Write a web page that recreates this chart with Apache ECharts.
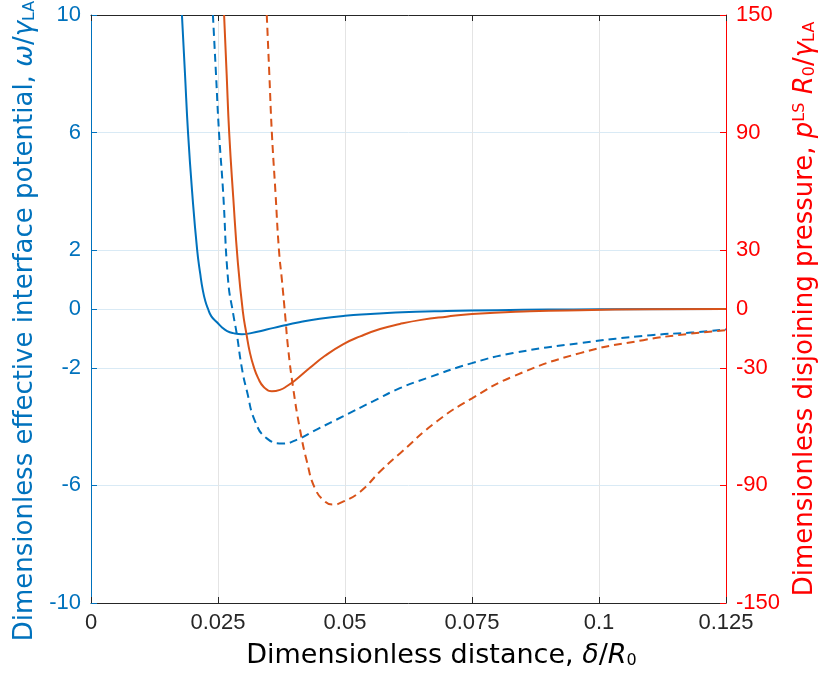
<!DOCTYPE html>
<html>
<head>
<meta charset="UTF-8">
<title>Interface potential and disjoining pressure</title>
<script src="https://cdn.jsdelivr.net/npm/echarts@6/dist/echarts.min.js"></script>
<style>
  html, body { margin: 0; padding: 0; background: #fff; }
  #chart { width: 822px; height: 677px; }
</style>
</head>
<body>
<div id="chart"></div>
<script>
// tick labels
var xTicks = [0, 0.025, 0.05, 0.075, 0.1, 0.125];
var leftTicks = [-10, -6, -2, 0, 2, 6, 10];
var rightTicks = [-150, -90, -30, 0, 30, 90, 150];

// blue solid: potential (left axis)
var blueSolidX = [0.0179, 0.0185, 0.0191, 0.0199, 0.0209, 0.0215, 0.0220, 0.0225, 0.0230, 0.0237, 0.0248, 0.0258, 0.0268, 0.0280, 0.0297, 0.0315, 0.0346, 0.0375, 0.0410, 0.0450, 0.0500, 0.0550, 0.0600, 0.0700, 0.0800, 0.0900, 0.1000, 0.1250];
var blueSolidY = [10, 8, 6, 4, 2, 1.2, 0.65, 0.27, 0.02, -0.25, -0.45, -0.63, -0.75, -0.82, -0.86, -0.82, -0.70, -0.58, -0.45, -0.33, -0.23, -0.17, -0.12, -0.07, -0.04, -0.02, -0.01, 0];

// orange solid: potential (left axis)
var orangeSolidX = [0.0262, 0.0267, 0.0272, 0.0280, 0.0289, 0.0299, 0.0306, 0.0313, 0.0321, 0.0329, 0.0340, 0.0356, 0.0372, 0.0386, 0.0405, 0.0431, 0.0460, 0.0496, 0.0530, 0.0569, 0.0608, 0.0650, 0.0700, 0.0750, 0.0864, 0.0963, 0.1100, 0.1250];
var orangeSolidY = [10, 8, 6, 3.8, 1.6, -0.1, -0.85, -1.5, -2.0, -2.35, -2.65, -2.8, -2.75, -2.62, -2.38, -2.0, -1.6, -1.2, -0.93, -0.68, -0.51, -0.37, -0.26, -0.17, -0.08, -0.04, -0.01, 0];

// blue dashed: pressure (right axis)
var blueDashX = [0.0240, 0.0246, 0.0252, 0.0260, 0.0270, 0.0280, 0.0287, 0.0297, 0.0307, 0.0323, 0.0346, 0.0378, 0.0406, 0.0445, 0.0496, 0.0555, 0.0608, 0.0661, 0.0750, 0.0831, 0.0963, 0.1102, 0.1187, 0.1250];
var blueDashY = [150, 120, 90, 60, 14.3, -2.6, -12.8, -30.2, -42, -57.3, -66, -68.6, -66.6, -61.4, -54.8, -47.1, -40.4, -35.3, -27.6, -22.5, -17.4, -13.4, -11.9, -10.4];

// orange dashed: pressure (right axis)
var orangeDashX = [0.0346, 0.0351, 0.0356, 0.0363, 0.0370, 0.0376, 0.0382, 0.0388, 0.0398, 0.0411, 0.0425, 0.0441, 0.0461, 0.0476, 0.0496, 0.0530, 0.0569, 0.0608, 0.0681, 0.0750, 0.0831, 0.0963, 0.1087, 0.1173, 0.1250];
var orangeDashY = [150, 120, 90, 60, 30, 14.3, -2.6, -20, -40.4, -60.9, -77.8, -91.6, -98.3, -99.8, -98.3, -93.2, -82.9, -73.7, -57.3, -45.6, -34.4, -22.5, -15.9, -12.8, -10.8];

function zip(xs, ys) {
    return xs.map(function (x, i) { return [x, ys[i]]; });
}

var BLUE = '#0072BD', ORANGE = '#D95319', RED = '#FF0000', DARK = '#262626';
var TICKFONT = 'Liberation Sans';
var NAMEFONT = 'DejaVu Sans';
var SMOOTH = 0.5;

function nameRich(color, size) {
    var sub = Math.round(size * 0.6);
    return {
        n: { fontSize: size, color: color, fontFamily: NAMEFONT },
        i: { fontSize: size, color: color, fontStyle: 'italic', fontFamily: NAMEFONT },
        s: { fontSize: sub, color: color, fontFamily: NAMEFONT, verticalAlign: 'bottom', padding: [10, 0, 0, 0] },
        u: { fontSize: sub, color: color, fontFamily: NAMEFONT, verticalAlign: 'top', padding: [0, 0, 10, 0] }
    };
}

var chart = echarts.init(document.getElementById('chart'));

chart.setOption({
    animation: false,
    textStyle: { fontFamily: TICKFONT },
    grid: { left: 91, right: 96, top: 15, bottom: 74, outerBoundsMode: 'none', containLabel: false },
    xAxis: [{
        type: 'value', min: 0, max: 0.125, interval: 0.025,
        name: '{n|Dimensionless distance, }{i|δ}{n|/}{i|R}{s|0}',
        nameLocation: 'middle', nameGap: 39,
        nameTextStyle: { rich: nameRich('#000', 27), padding: [0, 0, 0, 66] },
        axisLine: { onZero: false, lineStyle: { color: DARK, width: 1 } },
        axisTick: { inside: true, length: 6, lineStyle: { color: DARK } },
        axisLabel: {
            color: DARK, fontSize: 22, margin: 9,
            formatter: function (v) { return String(parseFloat(v.toFixed(3))); }
        },
        splitLine: { show: true, lineStyle: { color: '#e4e4e4', width: 1 } }
    }, {
        type: 'value', min: 0, max: 0.125, interval: 0.025, position: 'top',
        axisLine: { show: true, onZero: false, lineStyle: { color: DARK, width: 1 } },
        axisTick: { show: true, inside: true, length: 6, lineStyle: { color: DARK } },
        axisLabel: { show: false },
        splitLine: { show: false }
    }],
    yAxis: [{
        type: 'value', min: -10, max: 10, position: 'left',
        name: '{n|Dimensionless effective interface potential, }{i|ω}{n|/}{i|γ}{s|LA}',
        nameLocation: 'middle', nameGap: 42, nameRotate: 90,
        nameTextStyle: { rich: nameRich(BLUE, 26), padding: [0, 24, 0, 0] },
        axisLine: { show: true, onZero: false, lineStyle: { color: BLUE, width: 1 } },
        axisTick: { show: true, inside: true, length: 6, customValues: leftTicks, lineStyle: { color: BLUE } },
        axisLabel: { color: BLUE, fontSize: 22, margin: 10, customValues: leftTicks },
        splitLine: { show: true, lineStyle: { color: '#d9eaf5', width: 1 } }
    }, {
        type: 'value', min: -150, max: 150, position: 'right',
        name: '{n|Dimensionless disjoining pressure, }{i|p}{u|LS}{n| }{i|R}{s|0}{n|/}{i|γ}{s|LA}',
        nameLocation: 'middle', nameGap: 66, nameRotate: 90,
        nameTextStyle: { rich: nameRich(RED, 26) },
        axisLine: { show: true, onZero: false, lineStyle: { color: RED, width: 1 } },
        axisTick: { show: true, inside: true, length: 6, customValues: rightTicks, lineStyle: { color: RED } },
        axisLabel: { color: RED, fontSize: 22, margin: 10, customValues: rightTicks },
        splitLine: { show: false }
    }],
    series: [{
        type: 'line', name: 'blue potential', xAxisIndex: 0, yAxisIndex: 0,
        data: zip(blueSolidX, blueSolidY), showSymbol: false, smooth: SMOOTH,
        lineStyle: { color: BLUE, width: 2 }, clip: true
    }, {
        type: 'line', name: 'blue pressure', xAxisIndex: 0, yAxisIndex: 1,
        data: zip(blueDashX, blueDashY), showSymbol: false, smooth: SMOOTH,
        lineStyle: { color: BLUE, width: 2, type: [8, 5] }, clip: true
    }, {
        type: 'line', name: 'orange potential', xAxisIndex: 0, yAxisIndex: 0,
        data: zip(orangeSolidX, orangeSolidY), showSymbol: false, smooth: SMOOTH,
        lineStyle: { color: ORANGE, width: 2 }, clip: true
    }, {
        type: 'line', name: 'orange pressure', xAxisIndex: 0, yAxisIndex: 1,
        data: zip(orangeDashX, orangeDashY), showSymbol: false, smooth: SMOOTH,
        lineStyle: { color: ORANGE, width: 2, type: [8, 5] }, clip: true
    }]
});
</script>
</body>
</html>
